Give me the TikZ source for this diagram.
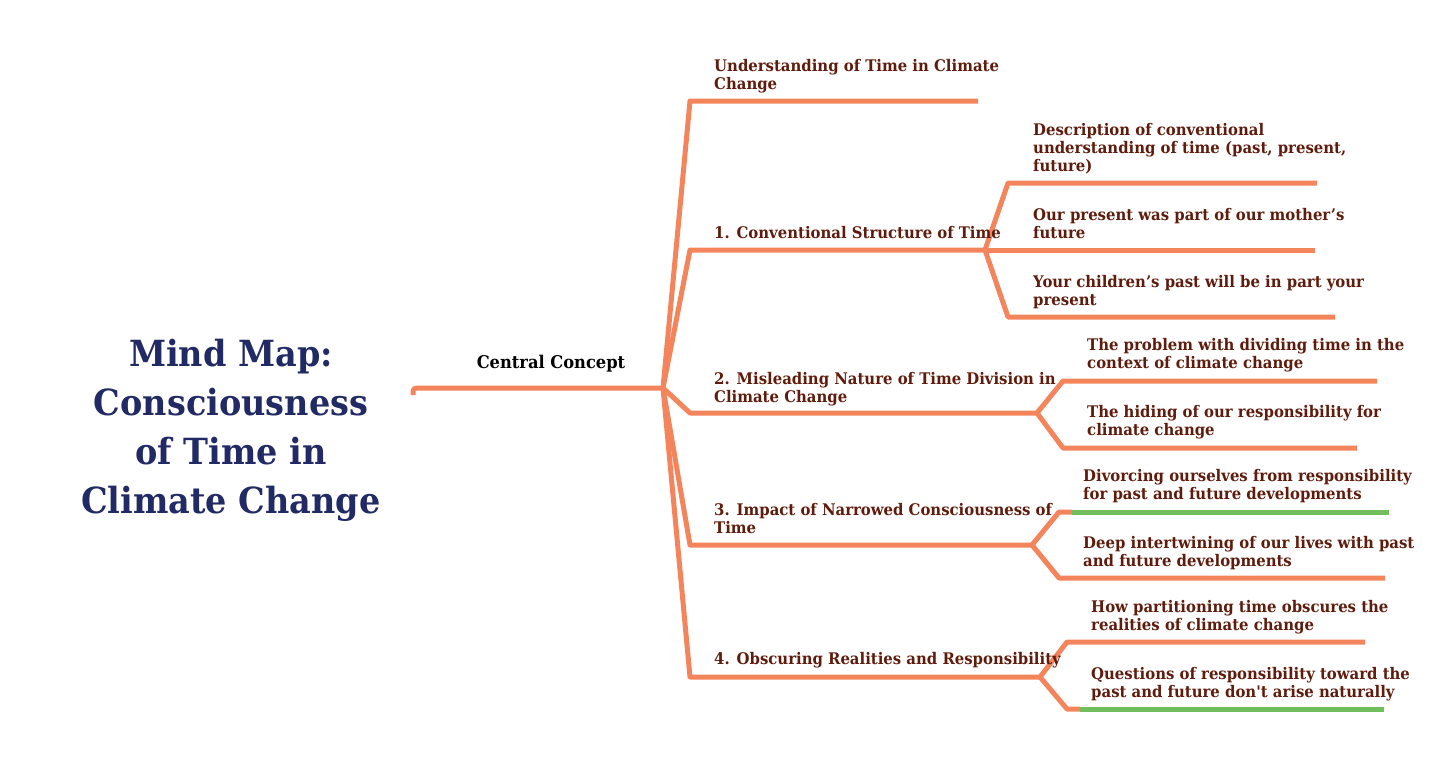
\documentclass[tikz,border=0pt]{standalone}
\usepackage{fontspec}
\setmainfont[FakeStretch=0.93]{DejaVu Serif}
\newfontfamily\plainapos[FakeStretch=0.93,Ligatures=ResetAll]{DejaVu Serif}
\definecolor{branch}{RGB}{243,132,92}
\definecolor{leafgreen}{RGB}{112,190,92}
\definecolor{txt}{RGB}{95,28,12}
\definecolor{navy}{RGB}{33,42,100}
\begin{document}
\begin{tikzpicture}[x=1pt,y=-1pt,
  conn/.style={draw=branch, line width=5pt, line join=round},
  green/.style={draw=leafgreen, line width=5pt},
  lbl/.style={anchor=north west, inner sep=0pt, align=left, text=txt,
    font=\bfseries\fontsize{16}{18}\selectfont},
  titlelbl/.style={inner sep=0pt, align=center, text=navy,
    font=\bfseries\fontsize{36}{49}\selectfont}]
\useasboundingbox (0,0) rectangle (1440,761);
% coordinates
\coordinate (r0) at (413,395);
\coordinate (r1) at (421,388);
\coordinate (hub) at (663,388);
\coordinate (c0) at (690,101); \coordinate (e0) at (978,101);
\coordinate (c1) at (690,250); \coordinate (s1) at (985,250);
\coordinate (c1a) at (1008,183); \coordinate (e1a) at (1317,183);
\coordinate (e1b) at (1315,250);
\coordinate (c1c) at (1008,317); \coordinate (e1c) at (1335,317);
\coordinate (c2) at (690,413); \coordinate (s2) at (1037,413);
\coordinate (c2a) at (1063,381); \coordinate (e2a) at (1377,381);
\coordinate (c2b) at (1063,448); \coordinate (e2b) at (1357,448);
\coordinate (c3) at (690,545); \coordinate (s3) at (1032,545);
\coordinate (c3a) at (1059,512); \coordinate (g3a) at (1072,512); \coordinate (e3a) at (1389,512);
\coordinate (c3b) at (1059,578); \coordinate (e3b) at (1385,578);
\coordinate (c4) at (690,677); \coordinate (s4) at (1040,677);
\coordinate (c4a) at (1067,642); \coordinate (e4a) at (1365,642);
\coordinate (c4b) at (1067,709); \coordinate (g4b) at (1080,709); \coordinate (e4b) at (1384,709);
% connectors
\draw[conn] (r0) .. controls (413,388) .. (r1) -- (hub);
\draw[conn] (hub) -- (c0) -- (e0);
\draw[conn] (hub) -- (c1) -- (s1);
\draw[conn] (s1) -- (c1a) -- (e1a);
\draw[conn] (s1) -- (e1b);
\draw[conn] (s1) -- (c1c) -- (e1c);
\draw[conn] (hub) -- (c2) -- (s2);
\draw[conn] (s2) -- (c2a) -- (e2a);
\draw[conn] (s2) -- (c2b) -- (e2b);
\draw[conn] (hub) -- (c3) -- (s3);
\draw[conn] (s3) -- (c3a) -- (g3a);
\draw[green] (g3a) -- (e3a);
\draw[conn] (s3) -- (c3b) -- (e3b);
\draw[conn] (hub) -- (c4) -- (s4);
\draw[conn] (s4) -- (c4a) -- (e4a);
\draw[conn] (s4) -- (c4b) -- (g4b);
\draw[green] (g4b) -- (e4b);
% texts
\node[titlelbl] (title) at (231,430) {Mind Map:\\Consciousness\\of Time in\\Climate Change};
\node[lbl, anchor=center, text=black, font=\bfseries\fontsize{17.5}{20}\selectfont] (central) at (551,364) {Central Concept};
\node[lbl] (t0) at (714,59) {Understanding of Time in Climate\\Change};
\node[lbl] (t1) at (714,226) {1. Conventional Structure of Time};
\node[lbl] (t1a) at (1033,123) {Description of conventional\\understanding of time (past, present,\\future)};
\node[lbl] (t1b) at (1033,208) {Our present was part of our mother’s\\future};
\node[lbl] (t1c) at (1033,275) {Your children’s past will be in part your\\present};
\node[lbl] (t2) at (714,372) {2. Misleading Nature of Time Division in\\Climate Change};
\node[lbl] (t2a) at (1087,338) {The problem with dividing time in the\\context of climate change};
\node[lbl] (t2b) at (1087,405) {The hiding of our responsibility for\\climate change};
\node[lbl] (t3) at (714,503) {3. Impact of Narrowed Consciousness of\\Time};
\node[lbl] (t3a) at (1083,469) {Divorcing ourselves from responsibility\\for past and future developments};
\node[lbl] (t3b) at (1083,536) {Deep intertwining of our lives with past\\and future developments};
\node[lbl] (t4) at (714,652) {4. Obscuring Realities and Responsibility};
\node[lbl] (t4a) at (1091,600) {How partitioning time obscures the\\realities of climate change};
\node[lbl] (t4b) at (1091,667) {Questions of responsibility toward the\\past and future don{\plainapos\bfseries '}t arise naturally};
\end{tikzpicture}
\end{document}
